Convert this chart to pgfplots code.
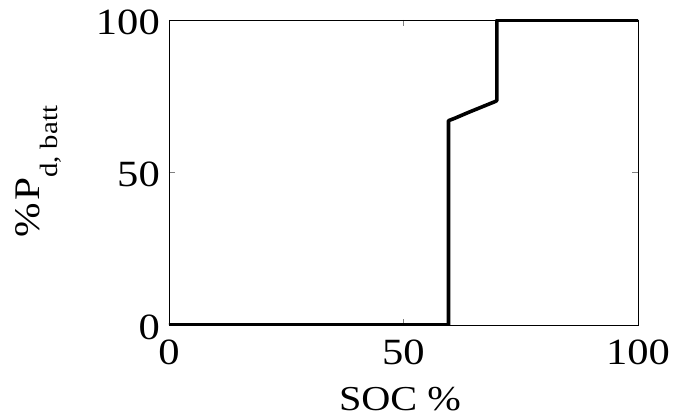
\documentclass[border=0pt]{standalone}
\usepackage{pgfplots}
\pgfplotsset{compat=1.18}
\usepackage{fontspec}
\setmainfont{Liberation Serif}[FakeStretch=1.15]
\begin{document}
\begin{tikzpicture}
\useasboundingbox (-169pt,-92pt) rectangle (508pt,325pt);
\begin{axis}[
  at={(0pt,0pt)}, anchor=south west,
  scale only axis, width=469pt, height=305pt,
  xmin=0, xmax=100, ymin=0, ymax=100,
  xtick={0,50,100}, ytick={0,50,100},
  tick align=inside, tick pos=both,
  major tick length=6pt,
  tick style={line width=0.6pt},
  axis line style={line width=0.8pt},
  tick label style={font=\fontsize{37}{39}\selectfont, inner sep=0pt},
  /pgf/number format/assume math mode=true,
  xticklabel style={anchor=north, yshift=-15pt},
  yticklabel style={anchor=east, xshift=-9pt, yshift=-2pt},
  xlabel={SOC \%},
  ylabel={\%\kern2pt P\raisebox{-0.5em}{\fontsize{25}{25}\selectfont d, batt}},
  xlabel style={font=\fontsize{35}{37}\selectfont, at={(axis description cs:0.4925,-0.243)}, anchor=center, inner sep=0pt},
  ylabel style={font=\fontsize{36}{38}\selectfont, at={(axis description cs:-0.277,0.503)}, anchor=base, inner sep=0pt},
]
\addplot[black, line width=3.6pt, line join=round] coordinates {
(0,0) (59.6,0) (59.6,67) (60.8,67.7) (64,69.8) (69.6,73.3) (69.9,73.6) (69.9,100) (100,100)
};
\end{axis}
\end{tikzpicture}
\end{document}
